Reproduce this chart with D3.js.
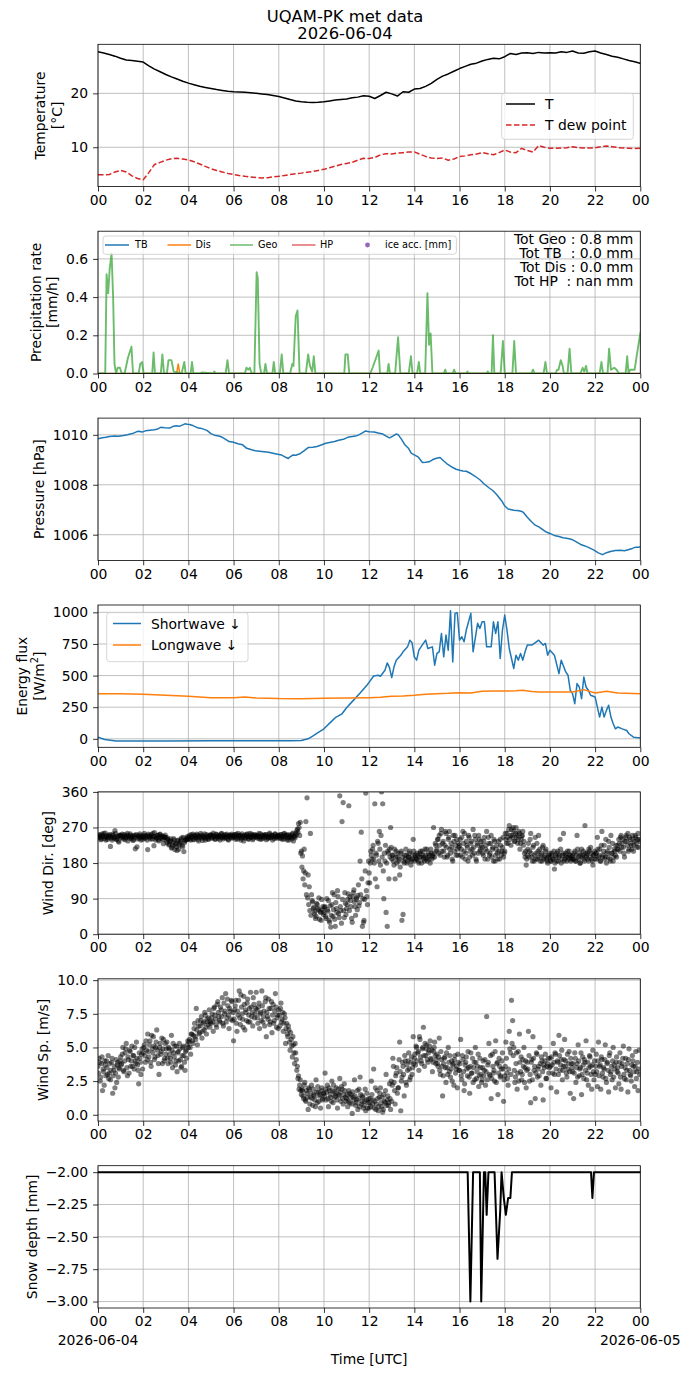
<!DOCTYPE html>
<html>
<head>
<meta charset="utf-8">
<script src="https://cdn.jsdelivr.net/npm/d3@7"></script>
<style>
body { margin: 0; background: #fff; }
svg { font-family: "DejaVu Sans", sans-serif; }
text { white-space: pre; }
</style>
</head>
<body>
<svg id="chart" width="690" height="1377"></svg>
<script>
// ---- data ----
const dayStart = Date.UTC(2026, 5, 4);
const HOUR = 3600e3;
const chartTitle = ['UQAM-PK met data', '2026-06-04'];
const xTickFormat = '%H';
const dateLabels = ['2026-06-04', '2026-06-05'];

// temperature, every 15 min from 00 to 24
const tempStepH = 0.25;
const tempC = [
  27.7, 27.5, 27.2, 26.9, 26.5, 26.2, 26.1, 25.95,
  25.8, 25.1, 24.5, 24.0, 23.5, 23.05, 22.65, 22.25,
  21.9, 21.6, 21.3, 21.1, 20.9, 20.7, 20.55, 20.4,
  20.3, 20.25, 20.2, 20.1, 20.0, 19.9, 19.8, 19.6,
  19.4, 19.15, 18.85, 18.6, 18.45, 18.35, 18.3, 18.35,
  18.45, 18.6, 18.75, 18.85, 18.95, 19.2, 19.3, 19.55,
  19.45, 19.05, 19.6, 20.2, 19.9, 19.5, 20.3, 20.2,
  20.8, 20.9, 21.3, 21.85, 22.6, 23.2, 23.6, 24.1,
  24.6, 25.0, 25.4, 25.6, 26.0, 26.3, 26.5, 26.4,
  26.8, 27.4, 27.2, 27.5, 27.55, 27.4, 27.6, 27.5,
  27.55, 27.5, 27.7, 27.6, 27.85, 27.5, 27.45, 27.7,
  27.85, 27.5, 27.2, 26.9, 26.7, 26.4, 26.1, 25.85,
  25.55
];
const dewC = [
  4.9, 4.9, 4.95, 5.4, 5.7, 5.4, 4.7, 4.2,
  3.95, 5.3, 6.8, 7.2, 7.6, 7.85, 7.95, 7.8,
  7.65, 7.3, 6.9, 6.45, 6.0, 5.7, 5.4, 5.15,
  4.95, 4.75, 4.6, 4.5, 4.4, 4.3, 4.35, 4.5,
  4.6, 4.75, 4.95, 5.1, 5.2, 5.35, 5.5, 5.7,
  5.9, 6.2, 6.5, 6.8, 7.0, 7.2, 7.6, 7.95,
  7.9, 8.1, 8.6, 8.8, 8.75, 8.9, 9.0, 9.1,
  9.15, 8.7, 8.3, 8.0, 7.9, 8.0, 7.6, 7.8,
  8.3, 8.4, 8.6, 8.75, 9.0, 8.8, 8.6, 9.0,
  9.5, 9.1, 9.0, 9.8, 9.4, 9.1, 10.3, 10.0,
  9.8, 9.8, 9.85, 9.9, 10.1, 9.9, 9.85, 9.85,
  9.9, 10.1, 10.25, 10.1, 9.95, 9.85, 9.8, 9.75,
  9.8
];

// precipitation rate [hour, mm/h]
const geoRate = [
  [0,0],[0.32,0],[0.38,0.52],[0.45,0.42],[0.52,0.55],[0.6,0.63],[0.67,0.4],[0.73,0.05],[0.8,0],
  [0.87,0.03],[0.97,0.03],[1.05,0],[1.18,0],[1.32,0.08],[1.48,0.14],[1.55,0],[1.8,0],[1.87,0.05],
  [1.95,0.06],[2.02,0],[2.4,0],[2.46,0.11],[2.52,0],[2.78,0],[2.85,0.1],[2.92,0],[3.05,0],
  [3.12,0.07],[3.25,0.07],[3.35,0.01],[3.7,0],[3.82,0.06],[3.88,0],[4.1,0],[4.16,0.06],[4.22,0],
  [4.5,0],[4.6,0.005],[5.1,0],[5.15,0.01],[5.2,0],[5.65,0],[5.73,0.07],[5.8,0],[6.5,0],
  [6.57,0.03],[6.65,0.02],[6.72,0.03],[6.8,0],[6.92,0],[7.02,0.53],[7.07,0.5],[7.15,0.05],[7.22,0],
  [7.35,0],[7.41,0.05],[7.48,0],[7.72,0],[7.78,0.06],[7.84,0],[8.05,0],[8.13,0.1],[8.2,0],
  [8.5,0],[8.6,0.05],[8.65,0.04],[8.75,0.3],[8.83,0.33],[8.92,0],[9.2,0],[9.3,0.1],[9.38,0.04],
  [9.48,0.01],[9.55,0.09],[9.62,0],[10.9,0],[10.95,0.1],[11.05,0.1],[11.12,0],[12.05,0],
  [12.15,0.03],[12.3,0.08],[12.42,0.12],[12.48,0],[12.8,0],[12.86,0.05],[12.92,0],[13.15,0],
  [13.28,0.19],[13.38,0],[13.75,0],[13.85,0.09],[13.92,0],[14.12,0],[14.2,0.06],[14.26,0],
  [14.48,0],[14.58,0.42],[14.65,0.15],[14.72,0.21],[14.8,0],[15.3,0],[15.37,0.02],[15.42,0],
  [15.7,0],[15.76,0.02],[15.82,0],[16.3,0],[16.35,0.01],[16.4,0],[17.2,0],[17.25,0.01],[17.3,0],
  [17.42,0],[17.48,0.2],[17.54,0],[17.82,0],[17.92,0.17],[18.0,0],[18.34,0],[18.42,0.17],[18.5,0],
  [19.18,0],[19.25,0.02],[19.32,0],[19.72,0],[19.8,0.06],[19.87,0],[20.25,0],[20.32,0.02],
  [20.38,0.02],[20.48,0.07],[20.56,0.04],[20.62,0],[20.78,0],[20.87,0.13],[20.95,0],[21.35,0],
  [21.45,0.03],[21.52,0.01],[21.6,0.04],[21.66,0],[22.2,0],[22.28,0.06],[22.35,0],[22.55,0],
  [22.62,0.13],[22.7,0.02],[22.85,0.03],[22.95,0.02],[23.05,0],[23.35,0],[23.42,0.09],[23.48,0],
  [23.55,0.02],[23.65,0.02],[23.75,0.02],[23.85,0.1],[24,0.21]
];
const tbRate = [[0,0],[24,0]];
const disRate = [[0,0],[3.48,0],[3.55,0.05],[3.62,0],[24,0]];
const totLines = ['Tot Geo : 0.8 mm', 'Tot TB  : 0.0 mm', 'Tot Dis : 0.0 mm', 'Tot HP  : nan mm'];

// pressure [hour, hPa]
const pressureHpa = [
  [0,1009.84],[0.2,1009.88],[0.35,1009.9],[0.5,1009.93],[0.74,1009.95],[0.9,1009.94],[1.13,1009.97],
  [1.3,1010.0],[1.52,1010.05],[1.7,1010.12],[1.81,1010.14],[1.95,1010.11],[2.1,1010.16],[2.3,1010.18],
  [2.49,1010.2],[2.6,1010.22],[2.78,1010.3],[2.95,1010.28],[3.17,1010.27],[3.3,1010.33],[3.46,1010.36],
  [3.6,1010.34],[3.85,1010.44],[3.95,1010.42],[4.05,1010.41],[4.2,1010.37],[4.3,1010.33],[4.44,1010.27],
  [4.6,1010.25],[4.82,1010.18],[5.0,1010.05],[5.21,1009.97],[5.35,1009.95],[5.5,1009.9],[5.65,1009.82],
  [5.8,1009.73],[6.0,1009.7],[6.19,1009.64],[6.4,1009.6],[6.58,1009.46],[6.8,1009.4],[6.96,1009.36],
  [7.15,1009.34],[7.35,1009.32],[7.55,1009.3],[7.74,1009.26],[7.95,1009.22],[8.13,1009.19],[8.33,1009.09],
  [8.42,1009.05],[8.5,1009.12],[8.62,1009.19],[8.75,1009.18],[8.91,1009.23],[9.1,1009.35],[9.3,1009.49],
  [9.5,1009.5],[9.69,1009.53],[9.85,1009.58],[10.08,1009.66],[10.3,1009.7],[10.47,1009.73],[10.65,1009.78],
  [10.86,1009.82],[11.05,1009.9],[11.25,1009.93],[11.4,1009.95],[11.54,1010.0],[11.7,1010.08],[11.83,1010.15],
  [12.0,1010.12],[12.22,1010.11],[12.4,1010.07],[12.61,1010.03],[12.75,1009.95],[12.9,1009.88],[13.05,1009.95],
  [13.19,1010.03],[13.29,1010.0],[13.45,1009.8],[13.58,1009.6],[13.75,1009.45],[13.87,1009.26],[14.0,1009.2],
  [14.16,1009.12],[14.36,1008.89],[14.5,1008.9],[14.65,1008.92],[14.8,1009.0],[14.94,1009.05],[15.14,1009.09],
  [15.3,1008.95],[15.43,1008.85],[15.6,1008.75],[15.72,1008.68],[15.85,1008.62],[16.01,1008.58],[16.15,1008.55],
  [16.3,1008.54],[16.5,1008.45],[16.69,1008.34],[16.9,1008.2],[17.08,1008.04],[17.3,1007.88],[17.47,1007.77],
  [17.65,1007.6],[17.86,1007.36],[18.0,1007.15],[18.15,1007.03],[18.4,1006.98],[18.64,1006.96],[18.75,1006.93],
  [18.83,1006.89],[19.0,1006.7],[19.22,1006.49],[19.35,1006.38],[19.51,1006.31],[19.65,1006.22],[19.81,1006.12],
  [20.0,1006.05],[20.19,1005.97],[20.4,1005.93],[20.58,1005.88],[20.8,1005.85],[20.97,1005.81],[21.15,1005.72],
  [21.36,1005.61],[21.55,1005.55],[21.75,1005.47],[21.95,1005.38],[22.14,1005.27],[22.25,1005.23],[22.33,1005.2],
  [22.5,1005.28],[22.72,1005.34],[22.9,1005.37],[23.11,1005.38],[23.3,1005.36],[23.5,1005.41],[23.65,1005.45],
  [23.79,1005.5],[23.9,1005.5],[24,1005.51]
];

// radiation [hour, W/m2]
const shortwave = [
  [0,13],[0.3,-5],[0.8,-17],[1.5,-18],[3,-17],[5,-16],[7,-15],[8.5,-15],[9.0,-13],[9.3,0],[9.5,21],
  [9.7,45],[10.0,79],[10.3,132],[10.5,167],[10.8,198],[11.0,246],[11.3,304],[11.6,362],[11.9,423],
  [12.2,497],[12.4,503],[12.5,495],[12.7,542],[12.8,600],[12.9,563],[13.0,484],[13.1,569],[13.2,622],
  [13.4,661],[13.5,688],[13.7,727],[13.8,780],[13.9,759],[14.0,648],[14.1,622],[14.2,701],[14.4,754],
  [14.5,780],[14.6,714],[14.8,727],[14.9,582],[15.0,675],[15.1,688],[15.2,833],[15.3,648],[15.4,820],
  [15.5,701],[15.6,1013],[15.7,608],[15.8,992],[15.9,997],[16.0,780],[16.1,807],[16.2,767],[16.3,860],
  [16.5,992],[16.6,688],[16.8,913],[16.9,873],[17.0,926],[17.1,926],[17.2,727],[17.4,727],[17.5,926],
  [17.6,833],[17.7,926],[17.8,635],[17.9,860],[18.0,979],[18.1,860],[18.2,714],[18.4,556],[18.5,661],
  [18.6,622],[18.7,675],[18.8,622],[18.9,688],[19.0,741],[19.2,741],[19.4,767],[19.5,780],[19.7,741],
  [19.8,754],[19.9,661],[20.0,701],[20.2,661],[20.4,516],[20.5,622],[20.7,529],[20.8,503],[20.9,384],
  [21.0,357],[21.1,278],[21.2,437],[21.3,410],[21.4,317],[21.5,489],[21.6,410],[21.7,384],[21.8,344],
  [22.0,331],[22.1,251],[22.2,172],[22.3,251],[22.4,172],[22.5,225],[22.6,265],[22.7,172],[22.8,119],
  [22.9,79],[23.0,93],[23.2,79],[23.4,66],[23.5,40],[23.7,13],[24,8]
];
const longwave = [
  [0,357],[1,356],[2,352],[3,344],[4,336],[4.5,330],[5,325],[6,325],[6.5,331],[7,323],[8,318],[9,317],
  [10,320],[11,322],[12,325],[12.5,328],[13,336],[13.5,338],[14,344],[14.5,352],[15,357],[15.5,360],
  [16,365],[16.5,362],[17,376],[17.5,378],[18,378],[18.5,380],[18.8,384],[19.2,375],[19.5,370],[20,370],
  [21,370],[21.5,389],[22,362],[22.5,376],[23,362],[24,357]
];

// wind, two interleaved sample sets every 3 min (A at :00, B at +1.5 min), 20 per hour per row
const windStepH = 0.05;
const windOffsetB = 0.025;
const windDir = [
  248,252,245,241,250,255,247,238,244,251,249,222,246,253,243,262,240,247,236,251,
  250,244,247,252,239,246,255,248,243,250,245,237,249,216,252,241,247,254,238,246,
  247,255,243,249,214,250,246,252,241,247,257,238,244,250,236,253,242,248,229,245,
  245,232,240,228,236,218,225,242,214,230,212,238,226,234,244,221,209,236,240,247,
  242,250,238,246,253,240,248,244,251,236,247,255,243,249,245,238,252,246,241,250,
  250,243,256,247,241,252,246,249,238,254,245,250,244,248,253,240,247,251,243,249,
  247,252,240,249,255,244,250,243,248,236,251,246,254,242,249,245,253,239,248,251,
  245,251,248,241,254,247,243,250,252,239,248,245,256,244,250,247,242,253,246,249,
  249,243,252,246,240,255,247,251,244,238,250,245,253,236,248,255,262,258,270,283,
  210,198,160,125,285,345,150,120,255,100,82,68,58,45,75,62,38,55,88,70,
  55,70,40,62,85,30,18,75,45,100,20,65,110,52,350,60,285,333,42,78,
  65,88,325,95,70,30,105,82,48,92,98,72,185,258,20,30,88,357,95,130,
  155,180,200,215,190,330,205,120,230,260,175,360,330,90,185,55,20,205,215,270,
  190,200,175,140,210,195,185,150,205,35,50,180,190,200,185,195,210,175,190,240,
  185,195,190,200,180,205,195,210,190,185,200,215,195,190,180,205,200,270,195,225,
  215,240,250,200,265,230,210,225,255,195,240,260,205,220,185,235,250,200,215,230,
  225,200,245,260,210,190,235,220,250,195,230,215,265,205,240,185,225,250,210,235,
  220,200,245,215,260,190,230,205,250,215,185,235,200,225,190,210,240,200,220,195,
  210,240,255,230,275,250,265,245,260,235,270,250,240,255,230,248,260,235,195,175,
  200,230,210,255,195,220,185,245,205,190,250,215,200,185,225,195,210,190,180,200,
  195,185,205,190,165,200,185,210,195,240,180,200,255,190,205,185,195,210,200,190,
  200,190,210,185,250,195,205,180,215,200,190,275,195,205,185,210,220,190,175,200,
  190,205,245,195,215,185,260,200,225,195,180,210,235,190,250,205,185,215,200,195,
  225,240,210,250,230,220,195,245,235,255,215,240,225,250,210,235,245,220,255,240
];
const windDirB = [
  244,250,239,253,247,242,256,249,240,246,252,243,238,250,245,255,241,248,233,250,
  246,253,241,249,244,251,236,247,254,242,248,239,251,245,221,249,243,250,246,240,
  251,244,248,238,253,246,241,249,255,224,247,243,250,239,252,245,248,240,246,251,
  238,244,226,235,241,220,232,238,227,222,236,215,230,240,225,245,232,238,243,240,
  246,241,252,247,239,250,244,253,240,248,245,251,237,246,254,243,249,240,247,252,
  244,251,247,240,253,248,242,250,246,255,241,247,252,243,249,238,251,246,253,244,
  251,245,253,241,248,250,238,254,245,249,243,252,247,240,255,246,250,243,252,247,
  249,243,255,246,240,251,248,244,252,247,242,253,245,250,238,249,254,246,243,251,
  246,252,241,249,254,243,250,238,252,245,248,241,256,247,244,251,266,280,250,205,
  170,140,215,155,100,92,75,60,48,85,65,52,40,78,66,92,58,35,62,50,
  68,45,90,58,35,72,48,105,62,38,80,55,95,42,70,28,88,60,105,50,
  75,102,60,85,40,95,112,70,88,62,125,80,100,140,90,35,160,110,75,185,
  130,210,190,225,180,140,200,235,185,215,250,195,160,205,225,180,210,140,195,220,
  200,185,215,195,180,205,190,170,210,195,185,200,215,180,195,205,190,185,200,210,
  200,190,205,185,195,210,180,200,195,215,190,185,205,200,215,190,195,205,230,210,
  240,205,225,255,210,235,195,260,220,200,245,215,230,190,250,210,225,240,200,220,
  240,215,195,230,255,205,225,185,245,210,235,200,220,250,190,230,205,240,215,225,
  205,235,190,225,210,245,200,230,195,220,240,185,215,205,235,190,225,210,245,205,
  255,230,245,265,240,225,250,270,235,255,245,230,260,215,240,250,225,205,210,190,
  215,195,240,205,185,225,200,190,230,210,195,185,205,220,190,200,215,185,195,205,
  185,200,190,210,180,195,205,185,200,215,190,205,185,200,195,210,190,200,185,195,
  190,205,185,200,215,190,180,200,195,210,185,205,200,190,215,195,205,185,200,210,
  205,190,215,200,185,225,195,210,190,240,205,195,220,185,205,230,195,210,225,215,
  215,230,245,220,240,205,235,250,225,210,245,230,215,240,225,250,230,240,220,235
];
const windSpeed = [
  3.6,4.2,2.5,3.8,1.8,3.2,4.0,2.9,3.5,4.4,3.1,2.6,3.9,1.6,3.3,2.0,4.1,3.7,2.8,3.4,
  4.3,3.8,5.0,3.2,4.6,5.3,2.9,4.1,4.8,3.6,5.1,4.4,3.4,4.0,5.4,3.7,2.3,4.2,3.0,4.9,
  4.6,5.2,3.9,4.8,6.0,4.3,5.5,3.6,4.9,5.8,4.1,5.0,6.3,4.4,3.0,5.3,4.7,3.8,5.6,4.2,
  4.5,5.4,3.8,4.9,4.2,5.9,3.5,4.6,5.1,4.0,3.2,4.7,5.3,4.1,3.6,5.0,4.4,3.3,4.8,5.2,
  5.0,5.6,4.5,6.0,5.3,6.4,5.8,7.9,5.2,6.6,6.1,7.0,5.7,6.8,6.3,7.4,6.0,6.9,7.2,6.5,
  6.8,7.5,6.2,8.0,7.1,6.5,8.4,7.3,6.9,7.8,8.7,6.6,7.5,9.0,7.2,8.1,6.4,7.7,8.5,7.0,
  5.5,7.8,8.5,6.2,7.4,9.2,6.7,8.0,7.1,8.8,6.3,7.6,8.3,6.9,7.9,9.1,7.3,6.6,8.2,7.5,
  9.1,7.2,8.0,6.4,7.6,9.2,6.9,7.7,8.4,5.8,7.3,8.6,6.7,7.9,6.1,8.2,7.0,9.0,6.5,7.4,
  7.8,6.6,8.3,7.1,6.2,7.5,5.3,6.8,5.8,6.3,4.8,5.6,4.3,5.2,3.8,4.6,3.3,2.7,1.9,2.6,
  1.5,1.8,1.2,2.4,1.0,1.6,0.4,1.9,1.3,2.2,0.7,1.5,1.1,2.6,0.9,1.7,1.4,0.5,2.0,1.2,
  1.6,3.1,1.1,2.2,0.6,1.8,1.3,2.5,0.9,1.7,1.4,2.0,0.5,1.5,2.7,1.0,1.9,0.8,2.3,1.3,
  1.2,0.6,1.8,0.9,1.5,0.1,1.3,2.6,0.7,1.1,0.4,1.9,2.8,0.8,1.4,0.5,1.0,0.3,1.6,0.9,
  0.5,1.2,2.5,0.8,3.4,1.0,0.4,1.8,0.3,1.3,2.0,0.6,0.2,1.5,0.9,3.0,1.1,0.7,2.3,0.4,
  1.0,4.2,2.4,0.8,3.1,1.6,2.0,5.4,0.3,2.8,3.6,1.4,4.0,2.2,3.3,4.6,2.6,3.9,3.0,5.8,
  4.2,3.7,5.0,4.6,3.3,5.6,4.0,4.9,6.5,3.6,4.4,5.2,3.9,4.8,5.5,4.1,3.2,4.7,5.4,3.8,
  4.5,3.6,5.7,3.0,4.1,1.4,3.8,4.3,2.4,3.5,5.0,3.2,2.8,4.0,3.7,2.2,4.4,3.4,2.0,3.9,
  3.3,5.6,2.6,4.1,1.8,3.7,4.3,2.9,3.5,1.6,4.6,3.1,2.4,3.9,5.0,2.7,3.6,2.1,4.2,3.0,
  2.6,4.0,3.3,2.2,7.3,3.7,5.3,2.9,1.2,4.5,3.1,2.5,5.5,3.8,1.5,4.2,2.8,3.4,4.6,1.0,
  2.9,5.4,3.1,2.2,6.2,4.6,8.5,7.0,5.0,2.4,3.8,1.9,4.7,6.0,3.2,2.6,4.1,5.0,3.5,2.0,
  3.9,6.2,2.5,0.9,4.1,5.8,3.3,1.2,4.6,2.8,3.6,5.0,2.2,4.0,1.1,3.5,4.5,2.7,3.8,3.1,
  4.2,2.0,3.7,5.3,3.0,4.5,1.7,3.9,5.9,3.3,4.1,2.6,3.6,5.6,4.0,2.8,3.4,4.7,1.6,3.8,
  3.2,1.2,4.6,2.4,3.8,5.2,2.9,3.5,1.5,4.3,2.7,3.9,5.5,3.1,2.2,4.4,3.6,1.9,4.8,2.6,
  3.0,4.5,2.1,5.4,3.6,1.9,4.1,2.8,3.4,5.2,2.4,3.9,1.7,4.6,3.2,2.6,5.0,3.7,2.0,4.3,
  3.5,2.3,4.6,1.9,3.8,5.1,2.7,4.2,3.3,1.7,4.9,3.0,2.5,4.4,3.6,2.1,4.7,3.2,1.8,4.8
];
const windSpeedB = [
  3.1,3.9,2.8,4.3,3.4,2.2,3.7,4.0,3.0,2.7,3.8,3.3,4.2,2.9,3.6,3.1,2.4,3.9,3.5,4.0,
  3.7,4.5,3.3,4.0,4.9,3.5,4.3,3.1,4.7,4.0,3.6,4.4,5.0,3.8,4.2,3.3,4.6,3.9,4.5,3.4,
  5.0,4.4,5.5,4.1,4.7,5.2,3.9,5.9,4.6,5.1,4.3,5.4,4.8,3.8,5.0,4.5,5.7,4.9,4.0,5.3,
  4.9,4.2,5.0,4.5,3.9,4.8,5.3,4.3,3.7,5.1,4.6,4.0,4.9,3.5,4.4,5.1,3.9,4.7,4.2,5.5,
  5.4,5.0,6.0,5.5,5.9,6.8,5.6,6.3,7.0,6.0,6.6,7.3,6.2,6.9,7.6,6.5,7.1,6.7,7.8,6.9,
  7.2,6.9,7.9,7.4,6.7,8.2,7.6,7.0,8.0,7.3,6.8,8.3,7.7,6.9,8.6,7.4,7.9,7.1,8.4,7.6,
  7.1,8.1,6.8,7.7,8.5,7.2,8.9,7.5,6.5,8.2,7.8,7.0,8.6,7.4,6.9,8.0,7.6,8.7,7.2,7.9,
  7.8,6.8,8.3,7.5,7.0,8.1,7.3,6.6,8.7,7.6,7.1,7.9,6.9,8.4,7.4,6.8,7.7,8.0,7.2,6.4,
  7.4,7.9,6.9,7.6,6.8,7.2,6.4,6.0,6.6,5.4,6.1,5.1,5.8,4.6,5.3,4.1,3.6,2.9,2.2,1.8,
  1.9,1.4,2.2,1.1,1.8,1.3,2.0,0.8,1.6,1.2,1.9,1.4,0.6,1.7,2.1,1.0,1.5,1.8,1.1,1.6,
  1.4,1.9,1.7,1.2,2.0,1.5,1.0,1.8,2.2,1.3,1.6,1.1,1.9,1.4,1.7,2.1,1.2,1.5,1.8,1.0,
  1.5,1.0,1.6,1.3,0.8,1.7,1.1,1.4,0.9,1.8,1.2,0.6,1.5,1.0,1.3,0.7,1.9,1.1,0.5,1.2,
  0.9,0.6,1.5,1.1,0.5,2.0,0.8,1.2,0.6,1.6,0.9,1.3,0.4,1.0,1.8,0.7,1.4,0.9,1.2,2.5,
  2.2,3.6,1.8,2.9,3.5,2.0,4.1,3.2,2.5,3.9,3.0,4.4,2.4,3.7,4.0,3.4,2.8,4.3,3.5,3.8,
  4.5,5.1,4.0,4.7,5.8,4.3,3.8,5.0,4.4,5.3,4.9,4.1,4.6,5.1,4.2,4.8,3.9,5.0,4.4,4.1,
  3.8,4.3,3.3,4.7,3.6,2.9,4.2,3.5,4.6,3.0,3.9,4.4,3.4,2.5,3.8,4.1,3.1,3.6,4.5,3.3,
  3.8,2.9,4.4,3.2,2.3,3.9,3.4,4.7,2.8,3.6,3.1,4.2,3.5,2.6,3.9,3.2,4.5,2.9,3.5,2.4,
  3.5,2.9,4.1,3.2,2.6,3.9,3.0,4.4,2.7,3.6,3.3,4.7,2.4,3.9,3.1,3.6,2.9,4.0,3.4,2.6,
  3.6,4.2,2.7,3.4,4.9,3.0,5.3,4.4,3.3,2.8,4.6,3.1,2.5,3.9,4.3,3.0,3.6,2.4,4.0,3.3,
  3.4,4.4,3.0,3.9,2.6,4.2,3.6,3.1,4.5,3.4,2.9,3.8,4.3,3.2,3.7,4.0,2.7,3.6,4.2,3.5,
  3.6,4.3,3.1,3.9,4.6,3.4,4.0,3.0,4.4,3.7,4.8,3.3,4.1,3.6,3.1,4.5,3.8,3.2,4.2,3.5,
  3.8,3.1,4.2,3.5,2.8,4.0,3.4,4.6,3.0,3.7,4.1,3.3,2.6,3.9,3.5,4.3,3.0,3.7,3.2,4.0,
  3.6,3.2,4.0,2.9,3.7,4.3,3.1,3.5,4.1,2.7,3.8,3.3,4.4,3.0,3.6,4.0,2.8,3.4,3.9,3.2,
  3.1,3.9,2.8,3.6,4.2,3.0,3.5,2.6,3.8,4.1,3.3,2.9,3.7,4.0,3.2,3.6,2.7,3.9,3.4,3.0
];

// snow depth [hour, mm]
const snowDepth = [
  [0,-2],[16.36,-2],[16.48,-3],[16.6,-2],[16.9,-2],[16.96,-3],[17.08,-2],[17.14,-2],[17.2,-2.33],
  [17.28,-2],[17.55,-2],[17.68,-2.67],[17.8,-2.3],[17.86,-2.0],[17.96,-2.2],[18.05,-2.33],[18.15,-2.2],
  [18.25,-2.2],[18.32,-2.0],[21.82,-2.0],[21.88,-2.2],[21.95,-2.0],[24,-2]
];

// ---- layout ----
const svg = d3.select('#chart');
const defs = svg.append('defs');
const FS = 13.9;          // 10 pt
const TICK = 4.9;         // 3.5 pt
const plotLeft = 98, plotRight = 640.3;
const panelTop0 = 44.3, panelStep = 186.9, panelH = 142.3;
const GRID = '#b0b0b0';
const C = { blue: '#1f77b4', orange: '#ff7f0e', green: '#2ca02c', red: '#d62728', purple: '#9467bd' };

const toDate = h => new Date(dayStart + h * HOUR);
const x = d3.scaleUtc()
    .domain([toDate(0), toDate(24)])
    .range([plotLeft, plotRight]);
const xTicks = x.ticks(d3.utcHour.every(2));

function makePanel(i, yDomain, yTicks, yFmt, labelLines, isLast) {
    const top = panelTop0 + i * panelStep;
    const bottom = top + panelH;
    const y = d3.scaleLinear().domain(yDomain).range([bottom, top]);
    const g = svg.append('g').attr('class', 'panel-' + i);

    defs.append('clipPath').attr('id', 'clip' + i)
        .append('rect')
        .attr('x', plotLeft).attr('y', top)
        .attr('width', plotRight - plotLeft).attr('height', panelH);

    // grid
    const grid = g.append('g').attr('stroke', GRID).attr('stroke-width', 0.8);
    grid.selectAll('line.gx').data(xTicks).join('line')
        .attr('x1', d => x(d)).attr('x2', d => x(d))
        .attr('y1', top).attr('y2', bottom);
    grid.selectAll('line.gy').data(yTicks).join('line')
        .attr('x1', plotLeft).attr('x2', plotRight)
        .attr('y1', d => y(d)).attr('y2', d => y(d));

    const plot = g.append('g').attr('clip-path', `url(#clip${i})`);

    // spines
    g.append('rect')
        .attr('x', plotLeft).attr('y', top)
        .attr('width', plotRight - plotLeft).attr('height', panelH)
        .attr('fill', 'none').attr('stroke', '#000').attr('stroke-width', 0.8);

    const xAxisG = g.append('g')
        .attr('transform', `translate(0,${bottom})`)
        .call(d3.axisBottom(x).tickValues(xTicks).tickFormat(d3.utcFormat(xTickFormat))
            .tickSize(TICK).tickSizeOuter(0).tickPadding(3.5));
    const yAxisG = g.append('g')
        .attr('transform', `translate(${plotLeft},0)`)
        .call(d3.axisLeft(y).tickValues(yTicks).tickFormat(yFmt)
            .tickSize(TICK).tickSizeOuter(0).tickPadding(4.9));
    [xAxisG, yAxisG].forEach(a => {
        a.attr('font-size', FS).attr('font-family', '"DejaVu Sans", sans-serif');
        a.select('.domain').remove();
        a.selectAll('.tick line').attr('stroke', '#000').attr('stroke-width', 0.8);
        a.selectAll('.tick text').attr('fill', '#000');
    });

    // y label, placed left of the tick labels like matplotlib does
    const bb = yAxisG.node().getBBox();
    const labelRight = plotLeft + bb.x - 5.6;
    const n = labelLines.length;
    labelLines.forEach((ln, k) => {
        const bx = labelRight - 3.3 - (n - 1 - k) * 16.7;
        const t = g.append('text')
            .attr('transform', `translate(${bx},${(top + bottom) / 2}) rotate(-90)`)
            .attr('text-anchor', 'middle')
            .attr('font-size', FS)
            .attr('fill', '#000');
        if (typeof ln === 'function') ln(t); else t.text(ln);
    });

    if (isLast) {
        [0, 24].forEach((h, k) => {
            g.append('text')
                .attr('x', x(toDate(h))).attr('y', bottom + 37)
                .attr('text-anchor', 'middle').attr('font-size', FS)
                .text(dateLabels[k]);
        });
        g.append('text')
            .attr('x', (plotLeft + plotRight) / 2).attr('y', bottom + 56)
            .attr('text-anchor', 'middle').attr('font-size', FS)
            .text('Time [UTC]');
    }
    return { g, plot, y, top, bottom };
}

function drawLine(p, pts, color, width, extra) {
    const line = d3.line().x(d => x(toDate(d[0]))).y(d => p.y(d[1]));
    const path = p.plot.append('path').datum(pts)
        .attr('d', line)
        .attr('fill', 'none')
        .attr('stroke', color)
        .attr('stroke-width', width)
        .attr('stroke-linejoin', 'round')
        .attr('stroke-linecap', 'square');
    if (extra) extra(path);
    return path;
}

function drawDots(p, pts) {
    p.plot.append('g').selectAll('circle').data(pts).join('circle')
        .attr('cx', d => x(toDate(d[0]))).attr('cy', d => p.y(d[1]))
        .attr('r', 2.6).attr('fill', '#000').attr('fill-opacity', 0.5);
}

function legendBox(x0, y0, w, h) {
    svg.append('rect')
        .attr('x', x0).attr('y', y0).attr('width', w).attr('height', h)
        .attr('rx', 2.8)
        .attr('fill', '#fff').attr('fill-opacity', 0.8)
        .attr('stroke', '#cccccc').attr('stroke-width', 0.8);
}

function legendLine(x1, x2, yy, color, label, tx, fs, dash, opacity) {
    svg.append('line')
        .attr('x1', x1).attr('x2', x2).attr('y1', yy).attr('y2', yy)
        .attr('stroke', color).attr('stroke-width', 1.5)
        .attr('stroke-dasharray', dash || null)
        .attr('stroke-opacity', opacity || 1);
    svg.append('text')
        .attr('x', tx).attr('y', yy + fs * 0.36)
        .attr('font-size', fs).attr('fill', '#000')
        .text(label);
}

const series = (vals, step, offset = 0) => vals.map((v, i) => [offset + i * step, v]);

// ---- title ----
chartTitle.forEach((t, k) => {
    svg.append('text')
        .attr('x', 345).attr('y', 22.4 + k * 16.6)
        .attr('text-anchor', 'middle').attr('font-size', 16.4)
        .text(t);
});

// ---- 1. temperature ----
const p1 = makePanel(0, [2.7, 29.1], [10, 20], d3.format('d'), ['Temperature', '[°C]']);
drawLine(p1, series(tempC, tempStepH), '#000', 1.5);
drawLine(p1, series(dewC, tempStepH), C.red, 1.5, s => s.attr('stroke-dasharray', '5.55,2.4').attr('stroke-linecap', 'butt'));
legendBox(501.7, 93.3, 131.6, 46);
legendLine(506, 535, 104, '#000', 'T', 545, FS);
legendLine(506, 535, 125, C.red, 'T dew point', 545, FS, '5.55,2.4');

// ---- 2. precipitation ----
const p2 = makePanel(1, [0, 0.745], [0, 0.2, 0.4, 0.6], d3.format('.1f'), ['Precipitation rate', '[mm/h]']);
drawLine(p2, tbRate, C.blue, 1.5);
drawLine(p2, disRate, C.orange, 1.5);
drawLine(p2, geoRate, C.green, 1.9, s => s.attr('stroke-opacity', 0.7));
legendBox(103, 236, 353.4, 18.3);
const lfs = 9.7;
legendLine(105, 129, 245, C.blue, 'TB', 135, lfs);
legendLine(167.5, 191, 245, C.orange, 'Dis', 195.5, lfs);
legendLine(230, 253, 245, C.green, 'Geo', 258, lfs, null, 0.7);
legendLine(292, 315.5, 245, C.red, 'HP', 320, lfs, null, 0.7);
svg.append('circle').attr('cx', 367.5).attr('cy', 245).attr('r', 2.4).attr('fill', C.purple);
svg.append('text').attr('x', 385).attr('y', 245 + lfs * 0.36).attr('font-size', lfs).text('ice acc. [mm]');
totLines.forEach((t, k) => {
    svg.append('text')
        .attr('x', 633.3).attr('y', 244.3 + k * 14)
        .attr('text-anchor', 'end').attr('font-size', FS)
        .text(t);
});

// ---- 3. pressure ----
const p3 = makePanel(2, [1004.97, 1010.67], [1006, 1008, 1010], d3.format('d'), ['Pressure [hPa]']);
drawLine(p3, pressureHpa, C.blue, 1.5);

// ---- 4. energy flux ----
const p4 = makePanel(3, [-67, 1058], [0, 250, 500, 750, 1000], d3.format('d'), [
    'Energy flux',
    t => {
        t.append('tspan').text('[W/m');
        t.append('tspan').attr('dy', -5.5).attr('font-size', FS * 0.7).text('2');
        t.append('tspan').attr('dy', 5.5).text(']');
    }
]);
drawLine(p4, shortwave, C.blue, 1.5);
drawLine(p4, longwave, C.orange, 1.5);
legendBox(106.7, 612.7, 141.3, 49);
legendLine(113, 141, 623.5, C.blue, 'Shortwave ↓', 151, FS);
legendLine(113, 141, 645, C.orange, 'Longwave ↓', 151, FS);

// ---- 5. wind direction ----
const p5 = makePanel(4, [0, 360], [0, 90, 180, 270, 360], d3.format('d'), ['Wind Dir. [deg]']);
drawDots(p5, series(windDir, windStepH).concat(series(windDirB, windStepH, windOffsetB)));

// ---- 6. wind speed ----
const p6 = makePanel(5, [-0.47, 10.1], [0, 2.5, 5, 7.5, 10], d3.format('.1f'), ['Wind Sp. [m/s]']);
drawDots(p6, series(windSpeed, windStepH).concat(series(windSpeedB, windStepH, windOffsetB)));

// ---- 7. snow depth ----
const p7 = makePanel(6, [-3.05, -1.95], [-3, -2.75, -2.5, -2.25, -2], d3.format('.2f'), ['Snow depth [mm]'], true);
drawLine(p7, snowDepth, '#000', 2);
</script>
</body>
</html>
